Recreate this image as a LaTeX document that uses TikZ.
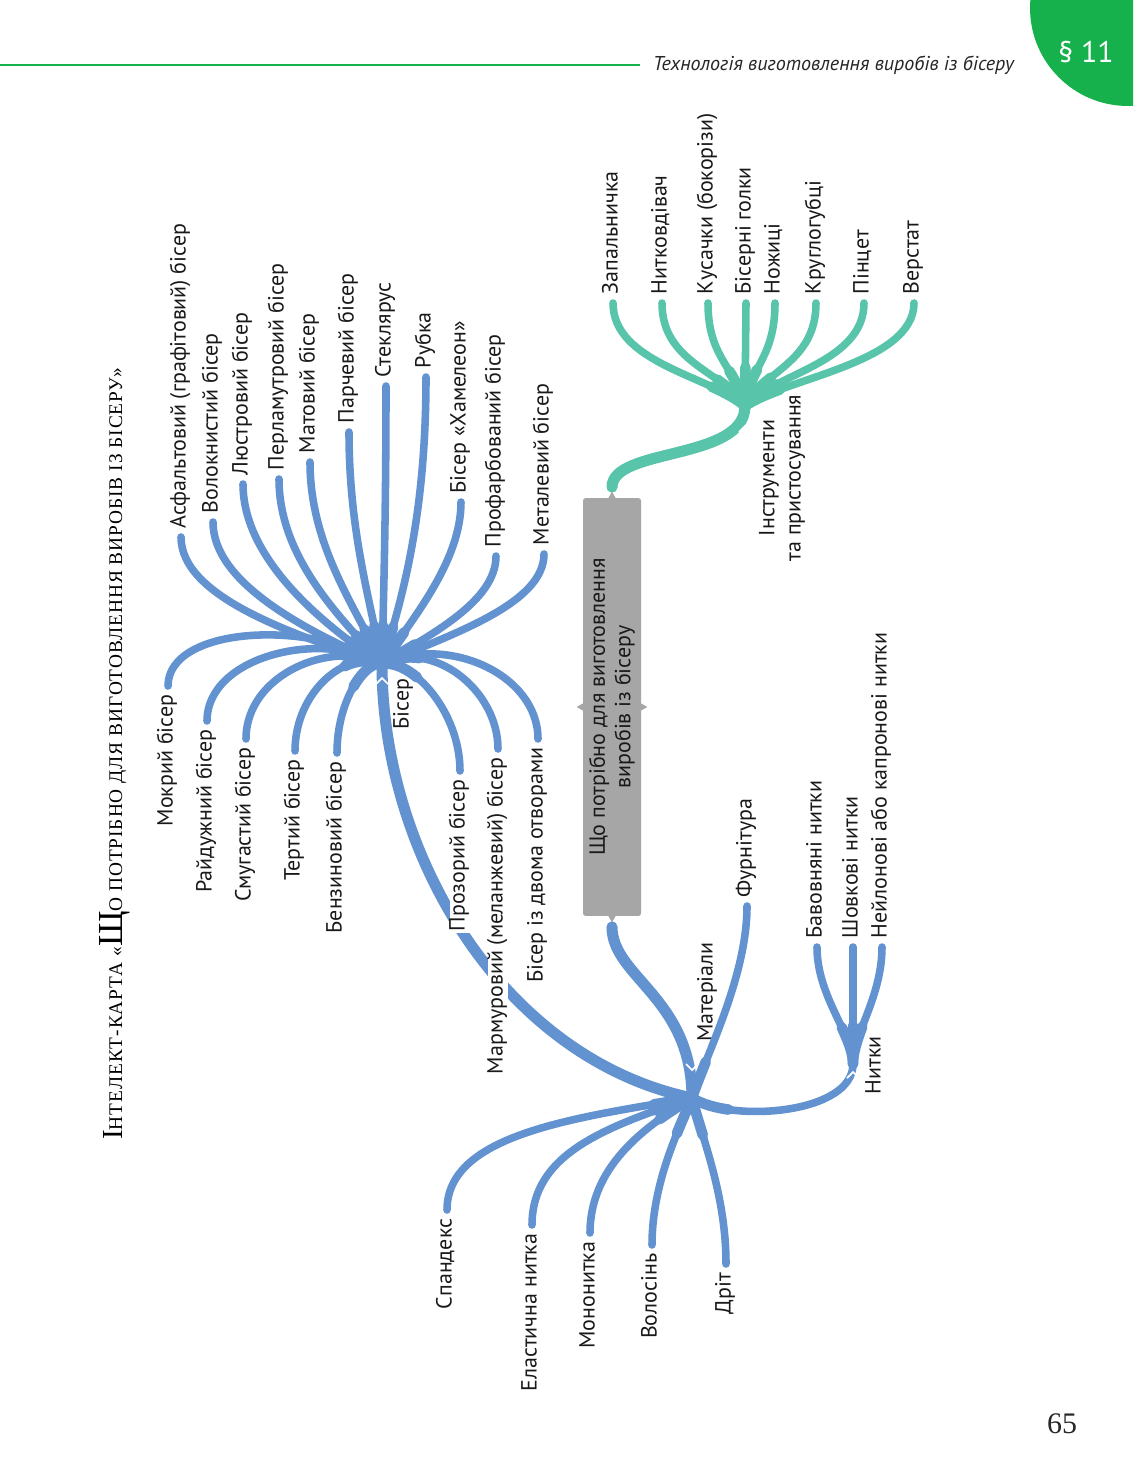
\documentclass[tikz,border=0pt]{standalone}
\usepackage{fontspec}
\setmainfont{PT Sans}
\newfontfamily\titlefont{Liberation Serif}
\newfontfamily\titlecaps{Liberation Serif}[LetterSpace=5]
\usetikzlibrary{positioning, shapes}

\definecolor{beadblue}{RGB}{98,146,208}
\definecolor{toolteal}{RGB}{88,196,170}
\definecolor{boxgray}{RGB}{166,166,166}
\definecolor{pagegreen}{RGB}{22,176,76}

\tikzset{
  hublbl/.style={rotate=90, inner sep=1pt, text=black!90, font=\fontsize{12.5}{15}\selectfont},
  lbl/.style={hublbl, fill=white, outer sep=4pt, text height=1.5ex, text depth=.45ex},
  bead/.style={draw=beadblue, line width=4.3pt, line cap=round, postaction={draw=beadblue, line width=6pt, dash pattern=on 22pt off 2000pt}},
  beadtrunk/.style={draw=beadblue, line width=6.3pt, line cap=round},
  tool/.style={draw=toolteal, line width=4.3pt, line cap=round, postaction={draw=toolteal, line width=6pt, dash pattern=on 22pt off 2000pt}},
  tooltrunk/.style={draw=toolteal, line width=6.3pt, line cap=round},
  hubnotch/.style={draw=white, line width=1pt}
}

\begin{document}
\begin{tikzpicture}[x=0.02cm, y=-0.02cm]
  \useasboundingbox (0,0) rectangle (1133,1474);
  \fill[white] (0,0) rectangle (1133,1474);
  \clip (0,0) rectangle (1133,1474);

  % Колонтитул
  \fill[pagegreen] (1128,8) circle[radius=1.96cm];
  \draw[pagegreen, line width=1pt] (0,65) -- (640,65);
  \node[anchor=base east, text=black!85, font=\itshape\fontsize{11.4}{14}\selectfont] (header) at (1020,70) {Технологія виготовлення виробів із бісеру};
  \node[text=white, font=\fontsize{17}{20}\selectfont] (par) at (1086,52) {§ 11};
  \node[text=black!85, font=\titlefont\fontsize{17}{20}\selectfont] (pagenum) at (1062,1424) {65};

  % Заголовок
  \node[rotate=90, anchor=base west, inner sep=0pt, font=\titlecaps\fontsize{11}{13}\selectfont] (title) at (122,1140) {{\fontsize{16.5}{16}\selectfont І}НТЕЛЕКТ-КАРТА «{\fontsize{20}{20}\selectfont Щ}О ПОТРІБНО ДЛЯ ВИГОТОВЛЕННЯ ВИРОБІВ ІЗ БІСЕРУ»};

  % Центральне поняття
  \node[rotate=90, fill=boxgray, minimum width=8.36cm, minimum height=1.16cm, rounded corners=1.5pt, align=center, text=black!90, font=\fontsize{12.5}{14.5}\selectfont] (box) at (612,707) {Що потрібно для виготовлення\\виробів із бісеру};
  \fill[boxgray] (box.east) +(-4,1) -- +(0,-6) -- +(4,1) -- cycle;
  \fill[boxgray] (box.west) +(-4,-1) -- +(0,6) -- +(4,-1) -- cycle;
  \fill[boxgray] (box.north) +(1,-4) -- +(-6,0) -- +(1,4) -- cycle;
  \fill[boxgray] (box.south) +(-1,-4) -- +(6,0) -- +(-1,4) -- cycle;

  % Вузли розгалуження
  \coordinate (instr) at (745,406);
  \coordinate (mat) at (692,1098);
  \coordinate (biser) at (382,664);
  \coordinate (nytky) at (853,1064);

  % Стовбури
  \draw[tooltrunk] ([yshift=6pt]box.east) .. controls +(0,-40) and +(0,55) .. (instr);
  \draw[beadtrunk] ([yshift=-6pt]box.west) .. controls +(0,50) and +(0,-100) .. (mat);
  \draw[beadtrunk] (mat) .. controls +(-190,-40) and +(0,190) .. (biser);
  \draw[bead] (mat) .. controls +(40,25) and +(0,50) .. (nytky);

  \draw[hubnotch] (instr) +(-6,26) -- +(0,20) -- +(6,26);
  \draw[hubnotch] (biser) +(-6,20) -- +(0,14) -- +(6,20);
  \draw[hubnotch] (mat) +(-6,-34) -- +(0,-28) -- +(6,-34);
  \draw[hubnotch] (nytky) +(-6,14) -- +(0,8) -- +(6,14);

  \node[hublbl] (biserlbl) at (403,704) {Бісер};
  \node[hublbl] (matlbl) at (707,992) {Матеріали};
  \node[hublbl] (nytkylbl) at (873,1065) {Нитки};
  \node[hublbl, align=center] (instrlbl) at (782,478) {Інструменти\\та пристосування};

  % Інструменти та пристосування
  \node[lbl, anchor=west] (zapal) at (613,303) {Запальничка};
  \node[lbl, anchor=west] (nytkov) at (662,303) {Нитковдівач};
  \node[lbl, anchor=west] (kusach) at (708,303) {Кусачки (бокорізи)};
  \node[lbl, anchor=west] (golky) at (746,303) {Бісерні голки};
  \node[lbl, anchor=west] (nozh) at (775,303) {Ножиці};
  \node[lbl, anchor=west] (krugl) at (816,303) {Круглогубці};
  \node[lbl, anchor=west] (pinc) at (864,303) {Пінцет};
  \node[lbl, anchor=west] (verst) at (914,303) {Верстат};

  \draw[tool] (instr) .. controls +(-35,-30) and +(0,60) .. (zapal.west);
  \draw[tool] (instr) .. controls +(-22,-35) and +(0,60) .. (nytkov.west);
  \draw[tool] (instr) .. controls +(-10,-40) and +(0,55) .. (kusach.west);
  \draw[tool] (instr) -- (golky.west);
  \draw[tool] (instr) .. controls +(5,-40) and +(0,55) .. (nozh.west);
  \draw[tool] (instr) .. controls +(18,-35) and +(0,60) .. (krugl.west);
  \draw[tool] (instr) .. controls +(28,-32) and +(0,60) .. (pinc.west);
  \draw[tool] (instr) .. controls +(40,-28) and +(0,60) .. (verst.west);

  % Бісер
  \node[lbl, anchor=west] (asfalt) at (181,537) {Асфальтовий (графітовий) бісер};
  \node[lbl, anchor=west] (volokn) at (213,522) {Волокнистий бісер};
  \node[lbl, anchor=west] (lustr) at (243,484) {Люстровий бісер};
  \node[lbl, anchor=west] (perlam) at (279,479) {Перламутровий бісер};
  \node[lbl, anchor=west] (matov) at (310,462) {Матовий бісер};
  \node[lbl, anchor=west] (parch) at (349,432) {Парчевий бісер};
  \node[lbl, anchor=west] (stekl) at (386,386) {Стеклярус};
  \node[lbl, anchor=west] (rubka) at (426,377) {Рубка};
  \node[lbl, anchor=west] (hamel) at (461,502) {Бісер «Хамелеон»};
  \node[lbl, anchor=west] (profarb) at (496,556) {Профарбований бісер};
  \node[lbl, anchor=west] (metal) at (544,554) {Металевий бісер};

  \node[lbl, anchor=east] (mokr) at (168,686) {Мокрий бісер};
  \node[lbl, anchor=east] (raid) at (207,721) {Райдужний бісер};
  \node[lbl, anchor=east] (smug) at (246,739) {Смугастий бісер};
  \node[lbl, anchor=east] (tert) at (295,751) {Тертий бісер};
  \node[lbl, anchor=east] (benz) at (337,753) {Бензиновий бісер};
  \node[lbl, anchor=east] (prozor) at (460,771) {Прозорий бісер};
  \node[lbl, anchor=east] (marmur) at (498,749) {Мармуровий (меланжевий) бісер};
  \node[lbl, anchor=east] (dvoma) at (538,739) {Бісер із двома отворами};

  \draw[bead] (biser) .. controls +(-90,-30) and +(0,60) .. (asfalt.west);
  \draw[bead] (biser) .. controls +(-80,-35) and +(0,60) .. (volokn.west);
  \draw[bead] (biser) .. controls +(-60,-40) and +(0,75) .. (lustr.west);
  \draw[bead] (biser) .. controls +(-40,-45) and +(0,80) .. (perlam.west);
  \draw[bead] (biser) .. controls +(-25,-55) and +(0,85) .. (matov.west);
  \draw[bead] (biser) .. controls +(-12,-65) and +(0,100) .. (parch.west);
  \draw[bead] (biser) .. controls +(2,-85) and +(0,120) .. (stekl.west);
  \draw[bead] (biser) .. controls +(20,-65) and +(0,140) .. (rubka.west);
  \draw[bead] (biser) .. controls +(30,-45) and +(0,60) .. (hamel.west);
  \draw[bead] (biser) .. controls +(50,-30) and +(0,45) .. (profarb.west);
  \draw[bead] (biser) .. controls +(70,-30) and +(0,50) .. (metal.west);

  \draw[bead] (biser) .. controls +(-70,-45) and +(0,-60) .. (mokr.east);
  \draw[bead] (biser) .. controls +(-60,-35) and +(0,-65) .. (raid.east);
  \draw[bead] (biser) .. controls +(-50,-25) and +(0,-65) .. (smug.east);
  \draw[bead] (biser) .. controls +(-35,-15) and +(0,-60) .. (tert.east);
  \draw[bead] (biser) .. controls +(-15,-5) and +(0,-55) .. (benz.east);
  \draw[bead] (biser) .. controls +(30,-5) and +(0,-60) .. (prozor.east);
  \draw[bead] (biser) .. controls +(50,-25) and +(0,-60) .. (marmur.east);
  \draw[bead] (biser) .. controls +(65,-30) and +(0,-65) .. (dvoma.east);

  % Матеріали
  \node[lbl, anchor=west] (furn) at (747,906) {Фурнітура};
  \node[lbl, anchor=east] (spandex) at (447,1210) {Спандекс};
  \node[lbl, anchor=east] (elast) at (532,1225) {Еластична нитка};
  \node[lbl, anchor=east] (monon) at (590,1233) {Мононитка};
  \node[lbl, anchor=east] (volos) at (652,1245) {Волосінь};
  \node[lbl, anchor=east] (drit) at (726,1264) {Дріт};

  \draw[bead] (mat) .. controls +(15,-45) and +(0,70) .. (furn.west);
  \draw[bead] (mat) .. controls +(-120,20) and +(0,-75) .. (spandex.east);
  \draw[bead] (mat) .. controls +(-90,30) and +(0,-70) .. (elast.east);
  \draw[bead] (mat) .. controls +(-50,30) and +(0,-65) .. (monon.east);
  \draw[bead] (mat) .. controls +(-15,35) and +(0,-60) .. (volos.east);
  \draw[bead] (mat) .. controls +(10,40) and +(0,-70) .. (drit.east);

  % Нитки
  \node[lbl, anchor=west] (bavovn) at (817,947) {Бавовняні нитки};
  \node[lbl, anchor=west] (shovk) at (853,947) {Шовкові нитки};
  \node[lbl, anchor=west] (neilon) at (882,947) {Нейлонові або капронові нитки};

  \draw[bead] (nytky) .. controls +(0,-30) and +(0,50) .. (bavovn.west);
  \draw[bead] (nytky) -- (shovk.west);
  \draw[bead] (nytky) .. controls +(0,-30) and +(0,50) .. (neilon.west);
\end{tikzpicture}
\end{document}
